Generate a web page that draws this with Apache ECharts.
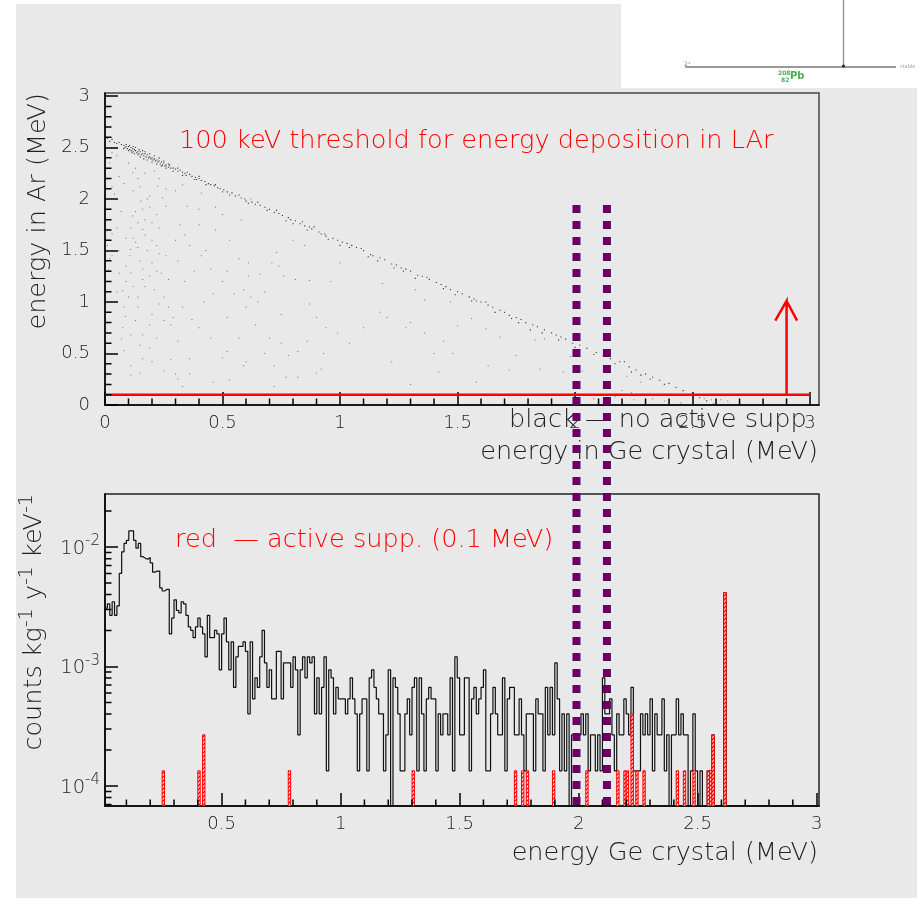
<!DOCTYPE html>
<html><head><meta charset="utf-8">
<style>html,body{margin:0;padding:0;background:#fff}#c{position:absolute;left:0;top:0;width:920px;height:899px}
#bg{position:absolute;left:16px;top:4px;width:901px;height:894px;background:#e9e9e9}
#wh{position:absolute;left:621px;top:0;width:296px;height:88px;background:#fff}</style>
<script src="https://cdn.jsdelivr.net/npm/echarts@6/dist/echarts.min.js"></script>
</head><body><div id="bg"></div><div id="wh"></div><div id="c"></div>
<script>
const FONT = 'DejaVu Sans';
// Upper panel: energy in Ge (MeV), energy in Ar (MeV)
const bandPoints = [[0.01,2.59],[0.02,2.56],[0.03,2.58],[0.04,2.55],[0.05,2.54],[0.06,2.55],[0.07,2.53],[0.08,2.52],[0.085,2.5],[0.09,2.51],[0.095,2.49],[0.1,2.51],[0.105,2.48],[0.11,2.5],[0.112,2.47],[0.118,2.49],[0.12,2.46],[0.125,2.48],[0.13,2.47],[0.135,2.45],[0.14,2.46],[0.145,2.44],[0.15,2.46],[0.155,2.43],[0.16,2.44],[0.165,2.42],[0.17,2.44],[0.175,2.41],[0.18,2.43],[0.185,2.4],[0.19,2.41],[0.195,2.39],[0.2,2.4],[0.205,2.38],[0.21,2.39],[0.215,2.37],[0.22,2.38],[0.225,2.36],[0.23,2.37],[0.235,2.34],[0.24,2.36],[0.245,2.33],[0.25,2.35],[0.255,2.32],[0.26,2.33],[0.27,2.31],[0.275,2.33],[0.28,2.3],[0.29,2.3],[0.3,2.29],[0.31,2.27],[0.32,2.28],[0.33,2.26],[0.34,2.25],[0.345,2.23],[0.36,2.24],[0.37,2.22],[0.385,2.21],[0.39,2.19],[0.4,2.2],[0.41,2.18],[0.425,2.17],[0.44,2.15],[0.45,2.14],[0.465,2.13],[0.48,2.11],[0.49,2.1],[0.505,2.09],[0.52,2.07],[0.54,2.06],[0.555,2.03],[0.58,2.01],[0.595,2.0],[0.6,1.98],[0.625,1.97],[0.64,1.95],[0.66,1.94],[0.68,1.92],[0.7,1.9],[0.72,1.87],[0.74,1.86],[0.755,1.84],[0.78,1.82],[0.79,1.8],[0.81,1.79],[0.83,1.76],[0.85,1.74],[0.87,1.73],[0.88,1.71],[0.91,1.68],[0.935,1.66],[0.94,1.64],[0.97,1.62],[0.99,1.6],[1.01,1.58],[1.03,1.57],[1.05,1.55],[1.07,1.53],[1.1,1.5],[1.13,1.46],[1.14,1.45],[1.17,1.43],[1.19,1.41],[1.22,1.37],[1.24,1.36],[1.26,1.33],[1.28,1.32],[1.3,1.3],[1.33,1.26],[1.35,1.25],[1.38,1.22],[1.41,1.19],[1.43,1.17],[1.45,1.15],[1.47,1.12],[1.5,1.1],[1.52,1.08],[1.55,1.05],[1.57,1.03],[1.58,1.01],[1.6,1.0],[1.63,0.97],[1.65,0.95],[1.68,0.92],[1.7,0.9],[1.72,0.87],[1.75,0.85],[1.77,0.83],[1.79,0.8],[1.82,0.78],[1.84,0.76],[1.87,0.73],[1.9,0.7],[1.92,0.68],[1.94,0.66],[1.96,0.64],[1.99,0.6],[2.02,0.58],[2.05,0.55],[2.09,0.51],[2.12,0.48],[2.15,0.45],[2.19,0.42],[2.23,0.37],[2.26,0.34],[2.3,0.3],[2.33,0.27],[2.36,0.24],[2.4,0.21],[2.43,0.17],[2.46,0.14],[2.5,0.1],[2.53,0.07],[2.56,0.04],[2.59,0.01]];
const bandSpread = [[0.08,2.49],[0.09,2.53],[0.1,2.47],[0.105,2.52],[0.115,2.45],[0.12,2.51],[0.125,2.44],[0.13,2.5],[0.14,2.43],[0.145,2.48],[0.15,2.41],[0.16,2.47],[0.165,2.39],[0.17,2.46],[0.18,2.38],[0.19,2.44],[0.2,2.36],[0.21,2.42],[0.22,2.34],[0.23,2.4],[0.24,2.32],[0.25,2.37],[0.26,2.3],[0.27,2.34],[0.29,2.27],[0.31,2.3],[0.33,2.23],[0.35,2.26],[0.38,2.19],[0.4,2.22],[0.43,2.14],[0.47,2.14],[0.5,2.07],[0.53,2.04],[0.57,2.04],[0.61,1.96],[0.65,1.97],[0.69,1.89],[0.73,1.89],[0.77,1.79],[0.8,1.76],[0.84,1.78],[0.86,1.7],[0.89,1.73],[0.92,1.66],[0.95,1.61],[1.0,1.55],[1.04,1.53],[1.09,1.52],[1.12,1.44],[1.16,1.4],[1.23,1.33],[1.27,1.3],[1.32,1.23],[1.37,1.24],[1.44,1.13],[1.49,1.07],[1.56,1.01],[1.62,1.0],[1.66,0.9],[1.73,0.84],[1.76,0.8],[1.81,0.73],[1.86,0.7],[1.93,0.63],[2.0,0.56],[2.08,0.49],[2.17,0.4],[2.21,0.42],[2.24,0.32],[2.28,0.29],[2.32,0.25],[2.38,0.2]];
const interiorPoints = [[0.07,0.64],[0.075,0.75],[0.087,0.86],[0.075,1.11],[0.09,1.2],[0.11,1.285],[0.106,1.45],[0.11,1.51],[0.139,1.53],[0.16,1.705],[0.2,1.77],[0.118,1.835],[0.068,1.88],[0.153,1.98],[0.19,2.03],[0.245,2.01],[0.224,2.125],[0.06,2.22],[0.118,2.255],[0.03,2.45],[0.02,2.35],[0.05,2.42],[0.015,2.2],[0.04,2.05],[0.02,1.9],[0.01,1.55],[0.03,1.45],[0.02,1.42],[0.1,2.35],[0.13,2.3],[0.17,2.25],[0.21,2.27],[0.15,2.12],[0.18,2.0],[0.16,1.9],[0.13,1.88],[0.14,1.77],[0.17,1.65],[0.2,1.6],[0.23,1.72],[0.22,1.85],[0.26,1.93],[0.3,2.08],[0.33,2.14],[0.35,1.93],[0.4,1.75],[0.32,1.75],[0.36,1.55],[0.26,1.45],[0.23,1.47],[0.2,1.38],[0.22,1.3],[0.24,1.28],[0.19,1.25],[0.16,1.22],[0.12,1.15],[0.17,1.15],[0.21,1.12],[0.25,1.05],[0.23,0.98],[0.14,0.95],[0.13,0.82],[0.11,0.68],[0.16,0.68],[0.2,0.88],[0.25,0.82],[0.28,0.78],[0.29,0.85],[0.33,0.95],[0.37,0.83],[0.4,0.75],[0.45,0.65],[0.52,0.52],[0.5,0.46],[0.6,0.42],[0.59,0.38],[0.68,0.5],[0.72,0.38],[0.82,0.52],[0.86,0.62],[0.93,0.5],[0.92,0.35],[0.77,0.27],[0.82,0.27],[0.9,0.31],[0.72,0.18],[0.46,0.22],[0.33,0.18],[0.31,0.25],[0.3,0.3],[0.25,0.33],[0.2,0.42],[0.19,0.55],[0.16,0.45],[0.15,0.58],[0.11,0.38],[0.15,0.31],[0.11,0.29],[0.28,0.44],[0.36,0.45],[0.42,1.0],[0.46,1.08],[0.52,1.3],[0.45,1.32],[0.41,1.45],[0.57,1.42],[0.61,1.38],[0.71,1.38],[0.74,1.35],[0.76,1.25],[0.61,1.25],[0.5,1.2],[0.59,1.12],[0.65,1.0],[0.6,0.95],[0.75,0.88],[0.87,0.98],[0.9,0.85],[0.94,0.75],[0.99,0.7],[1.04,0.6],[1.1,0.75],[1.17,0.9],[1.2,0.85],[1.28,0.75],[1.3,0.8],[1.36,0.7],[1.22,0.42],[1.3,0.2],[1.42,0.32],[1.44,0.62],[1.48,0.5],[1.47,1.0],[1.32,1.12],[1.18,1.18],[1.0,1.38],[0.96,1.2],[0.87,1.21],[0.81,1.22],[0.73,1.48],[0.8,1.6],[0.85,1.55],[0.53,1.6],[0.47,1.7],[0.4,1.9],[0.5,1.85],[0.58,1.8],[0.62,2.0],[0.41,2.06],[0.47,1.92],[1.36,1.02],[1.5,0.77],[1.56,0.84],[1.62,0.74],[1.68,0.66],[1.75,0.48],[1.72,0.34],[1.85,0.35],[1.58,0.22],[1.63,0.38],[1.4,0.5],[1.98,0.47],[1.83,0.63],[1.87,0.64],[1.95,0.32],[2.03,0.33],[2.12,0.18],[2.22,0.28],[2.28,0.22],[2.24,0.12],[2.17,0.08],[2.2,0.14],[2.02,0.04],[2.08,0.06],[2.25,0.05],[2.3,0.03],[2.33,0.06],[2.38,0.04],[2.45,0.02],[2.55,0.06],[2.58,0.05],[2.62,0.05],[2.65,0.04],
[0.01,2.3],[0.03,2.12],[0.05,1.72],[0.03,1.66],[0.06,1.5],[0.015,1.31],[0.09,1.35],[0.1,1.05],[0.08,0.95],[0.12,1.62],[0.15,1.4],[0.18,1.5],[0.11,1.72],[0.13,1.58],[0.16,1.32],[0.09,1.62],[0.14,2.2],[0.12,2.08],[0.08,2.15],[0.17,1.8],[0.19,1.92],[0.23,2.2],[0.26,2.1],[0.22,1.55],[0.14,1.05],[0.08,0.53],[0.19,0.78],[0.22,0.65],[0.06,1.28],[0.05,1.1],[0.27,1.22],[0.31,1.4],[0.34,1.2],[0.38,1.3],[0.43,1.5],[0.3,1.6],[0.34,1.65],[0.27,0.95],[0.31,0.62],[0.36,0.3],[0.53,0.24],[0.55,1.08],[0.62,1.05],[0.68,1.1],[0.66,1.27],[0.7,0.65],[0.75,0.6],[0.78,0.48],[0.57,0.65],[0.64,0.78],[0.52,0.85]];
const thresholdLine = [[0,0.1],[3,0.1]];
const arrowMark = [[2.9,0.1],[2.9,1.01],[2.852,0.82],[2.9,1.01],[2.945,0.82]];
// Lower panel: counts per 0.01 MeV bin, from bin 1 (0.01 MeV)
const binWidth = 0.01;
const countUnit = 1.34e-4;
const axisFloor = 6.8e-5;
const blackCounts = [23,25,20,26,20,24,45,68,80,85,102,102,85,73,80,62,60,59,61,55,46,47,47,34,32,33,33,14,19,27,22,21,26,25,20,16,15,13,16,19,16,14,9,20,13,13,15,14,7,14,19,12,7,12,5,9,11,11,12,10,3,12,4,6,5,9,15,8,5,7,4,4,10,10,4,8,8,8,5,9,7,2,7,9,6,9,8,9,3,6,3,5,9,1,7,
6,3,5,4,4,4,3,4,6,4,3,1,3,4,4,1,6,7,5,4,3,3,1,2,7,0,6,5,3,1,1,3,4,2,5,6,1,6,3,1,4,5,4,4,1,3,2,3,3,2,6,1,9,6,2,2,6,6,1,4,5,3,4,5,7,1,1,3,5,3,2,2,6,1,4,5,5,2,2,4,2,1,3,3,3,1,4,3,3,1,5,2,5,2,8,4,1,3,1,3,0,
2,2,2,2,3,2,3,1,2,2,1,2,1,6,3,3,4,2,1,3,2,2,4,3,2,5,1,1,1,3,2,3,2,4,1,3,2,2,4,1,2,0,2,2,4,2,3,2,2,0,1,3,1,0,1,0,0,1,1,2,0,0,0,0,31];
const redBins = [25,40,42,78,130,173,176,178,189,203,216,219,220,222,224,227,241,244,248,254,255,256,261];
const redCounts = [1,1,2,1,1,1,1,1,1,1,1,1,1,3,1,1,1,1,1,1,1,2,31];
const markerLines = [1.991,2.119];
const markerRange = [7.28,6.8e-5];
// Axis ticks
const majorX = [0,0.5,1,1.5,2,2.5,3];
const minorX = [0.1,0.2,0.3,0.4,0.6,0.7,0.8,0.9,1.1,1.2,1.3,1.4,1.6,1.7,1.8,1.9,2.1,2.2,2.3,2.4,2.6,2.7,2.8,2.9];
const majorYTop = [0,0.5,1,1.5,2,2.5,3];
const minorYTop = [0.1,0.2,0.3,0.4,0.6,0.7,0.8,0.9,1.1,1.2,1.3,1.4,1.6,1.7,1.8,1.9,2.1,2.2,2.3,2.4,2.6,2.7,2.8,2.9];
const majorYLog = [1e-4,1e-3,1e-2];
const minorYLog = [7e-5,8e-5,9e-5,2e-4,3e-4,4e-4,5e-4,6e-4,7e-4,8e-4,9e-4,2e-3,3e-3,4e-3,5e-3,6e-3,7e-3,8e-3,9e-3,2e-2];

const black = '#000';
const txt = '#222';
const hatch = document.createElement('canvas'); hatch.width = 4; hatch.height = 4;
(function(){const g = hatch.getContext('2d'); g.fillStyle='#fff'; g.fillRect(0,0,4,4); g.strokeStyle='#f00'; g.lineWidth=1.4; g.beginPath(); g.moveTo(-1,1); g.lineTo(1,-1); g.moveTo(0,4); g.lineTo(4,0); g.moveTo(3,5); g.lineTo(5,3); g.stroke();})();

const labelStyle = {fontFamily:FONT,fontWeight:200,fontSize:18,color:txt};
const nameStyle = {fontFamily:FONT,fontWeight:200,fontSize:25.5,color:txt};
const X_RANGE_TOP = [0,3.038], X_RANGE_LOW = [0.01,3.01];
const Y_MIN_TOP = 0, Y_MAX_TOP = 3.03, Y_MAX_LOW = 0.0278;
// minor tick lengths expressed in axis units: 6.5 px
const TICK_X_TOP = 6.5/235, TICK_Y_TOP = 6.5/103, TICK_X_LOW = 6.5/238, TICK_Y_LOW_FACTOR = Math.pow(10,6.5/119.5);
const majorTick = vals => ({show:true,inside:true,length:13,customValues:vals,lineStyle:{color:black,width:1.5}});

function xAxisDef(grid,range,name,labelVals){return {type:'value',gridIndex:grid,min:range[0],max:range[1],position:'bottom',splitLine:{show:false},
  axisLine:{show:true,onZero:false,lineStyle:{color:black,width:1.5}},
  axisTick:majorTick(labelVals),
  axisLabel:{...labelStyle,margin:9,customValues:labelVals,showMinLabel:true,showMaxLabel:true,hideOverlap:false},
  name,nameLocation:'end',nameGap:0,nameTextStyle:{...nameStyle,align:'right',verticalAlign:'top',padding:[34,1,0,0]}};}

function tickLine(xi,yi,segments){return {type:'line',xAxisIndex:xi,yAxisIndex:yi,clip:false,showSymbol:false,silent:true,z:15,connectNulls:false,
  data:segments.flatMap(s=>[s[0],s[1],['-','-']]),lineStyle:{color:black,width:1.5}};}
const topXTicks = minorX.map(v=>[[v,Y_MIN_TOP],[v,TICK_Y_TOP]]);
const topYTicks = minorYTop.map(v=>[[X_RANGE_TOP[0],v],[TICK_X_TOP,v]]);
const lowXTicks = minorX.map(v=>[[v,axisFloor],[v,axisFloor*TICK_Y_LOW_FACTOR]]);
const lowYTicks = minorYLog.map(v=>[[X_RANGE_LOW[0],v],[X_RANGE_LOW[0]+TICK_X_LOW,v]]);

const option = {
  animation:false,backgroundColor:'transparent',
  grid:[
    {left:105,top:93,width:714,height:312,show:true,borderColor:'#444',borderWidth:1.5,backgroundColor:'transparent'},
    {left:105,top:494,width:714,height:312,show:true,borderColor:'#222',borderWidth:1.5,backgroundColor:'transparent'}
  ],
  xAxis:[
    xAxisDef(0,X_RANGE_TOP,'energy in Ge crystal (MeV)',majorX),
    xAxisDef(1,X_RANGE_LOW,'energy Ge crystal (MeV)',majorX.slice(1))
  ],
  yAxis:[
    {type:'value',gridIndex:0,min:Y_MIN_TOP,max:Y_MAX_TOP,position:'left',splitLine:{show:false},
     axisLine:{show:true,onZero:false,lineStyle:{color:black,width:1.5}},
     axisTick:majorTick(majorYTop),
     axisLabel:{...labelStyle,margin:15,padding:[4,0,0,0],customValues:majorYTop},
     name:'energy in Ar (MeV)',nameLocation:'end',nameRotate:90,nameGap:0,
     nameTextStyle:{...nameStyle,align:'right',verticalAlign:'bottom',padding:[0,0,54,0]}},
    {type:'log',gridIndex:1,min:axisFloor,max:Y_MAX_LOW,logBase:10,position:'left',splitLine:{show:false},
     axisLine:{show:true,onZero:false,lineStyle:{color:black,width:1.5}},
     axisTick:majorTick(majorYLog),
     axisLabel:{...labelStyle,fontSize:19.5,margin:5,padding:[3,0,0,0],customValues:majorYLog,
       formatter:v=>'10{s|'+Math.round(Math.log10(v))+'}',
       rich:{s:{fontFamily:FONT,fontWeight:200,fontSize:15,color:txt,padding:[0,0,14,0]}}},
     name:'counts kg{s|-1} y{s|-1} keV{s|-1}',nameLocation:'end',nameRotate:90,nameGap:0,
     nameTextStyle:{...nameStyle,align:'right',verticalAlign:'bottom',padding:[0,0,54,0],
       rich:{s:{fontFamily:FONT,fontWeight:200,fontSize:19,color:txt,padding:[0,0,14,0]}}}}
  ],
  series:[
    tickLine(0,0,topXTicks),
    tickLine(0,0,topYTicks),
    tickLine(1,1,lowXTicks),
    tickLine(1,1,lowYTicks),
    {type:'scatter',xAxisIndex:0,yAxisIndex:0,data:interiorPoints,symbol:'rect',symbolSize:1,itemStyle:{color:'#333',opacity:.65},z:3},
    {type:'scatter',xAxisIndex:0,yAxisIndex:0,data:bandPoints,symbol:'rect',symbolSize:1.1,itemStyle:{color:'#111',opacity:.85},z:3},
    {type:'scatter',xAxisIndex:0,yAxisIndex:0,data:bandSpread,symbol:'rect',symbolSize:1.1,itemStyle:{color:'#111',opacity:.85},z:3},
    {type:'line',xAxisIndex:0,yAxisIndex:0,data:thresholdLine,showSymbol:false,lineStyle:{color:'#f00',width:2.5},z:5},
    {type:'line',xAxisIndex:0,yAxisIndex:0,data:arrowMark,showSymbol:false,lineStyle:{color:'#f00',width:2.5,join:'miter'},z:5},
    {type:'line',xAxisIndex:1,yAxisIndex:1,step:'end',showSymbol:false,clip:true,
     data:blackCounts.map((c,i)=>[(i+1)*binWidth,c>0?c*countUnit:axisFloor]).concat([[ (blackCounts.length+1)*binWidth,axisFloor],[3.01,axisFloor]]),
     lineStyle:{color:'#111',width:1.2},z:4},
    {type:'custom',xAxisIndex:1,yAxisIndex:1,clip:true,z:6,
     data:redBins.map((b,i)=>[b*binWidth,redCounts[i]*countUnit]),
     encode:{x:0,y:1},
     renderItem:(p,api)=>{
       const x=api.value(0),y=api.value(1);
       const a=api.coord([x,axisFloor]),b=api.coord([x+binWidth,y]);
       return {type:'rect',shape:{x:a[0],y:b[1],width:b[0]-a[0],height:a[1]-b[1]},
         style:{fill:{image:hatch,repeat:'repeat'},stroke:'#f00',lineWidth:1}};
     }},
    ...markerLines.map(x=>({type:'line',xAxisIndex:1,yAxisIndex:1,clip:false,showSymbol:false,z:20,
      data:markerRange.map(y=>[x,y]),lineStyle:{color:'#660066',width:8,type:[8,8],cap:'butt'}}))
  ],
  graphic:[
    {type:'line',silent:true,shape:{x1:843.5,y1:0,x2:843.5,y2:66},style:{stroke:'#999',lineWidth:1.5}},
    {type:'line',silent:true,shape:{x1:685,y1:67,x2:896,y2:67},style:{stroke:'#999',lineWidth:2}},
    {type:'circle',silent:true,shape:{cx:843.5,cy:66,r:1.5},style:{fill:'#222'}},
    {type:'text',silent:true,x:684,y:61,style:{text:'2⁺',font:'6px '+FONT,fill:'#888'}},
    {type:'text',silent:true,x:900,y:64,style:{text:'stable',font:'5px '+FONT,fill:'#999'}},
    {type:'text',silent:true,x:778,y:70,style:{text:'208',font:'bold 6px '+FONT,fill:'#4caf50'}},
    {type:'text',silent:true,x:781,y:77,style:{text:'82',font:'bold 6px '+FONT,fill:'#4caf50'}},
    {type:'text',silent:true,x:790,y:71,style:{text:'Pb',font:'bold 10px '+FONT,fill:'#4caf50'}},
    {type:'text',silent:true,x:179,y:128,style:{text:'100 keV threshold for energy deposition in LAr',fill:'#f00',fontFamily:FONT,fontWeight:200,fontSize:25.6}},
    {type:'text',silent:true,x:509,y:407,style:{text:'black — no active supp',fill:txt,fontFamily:FONT,fontWeight:200,fontSize:25.6}},
    {type:'text',silent:true,x:175,y:527,style:{text:'red  — active supp. (0.1 MeV)',fill:'#f00',fontFamily:FONT,fontWeight:200,fontSize:25.6}}
  ]
};
echarts.init(document.getElementById('c'),null,{renderer:'canvas'}).setOption(option);
</script></body></html>
